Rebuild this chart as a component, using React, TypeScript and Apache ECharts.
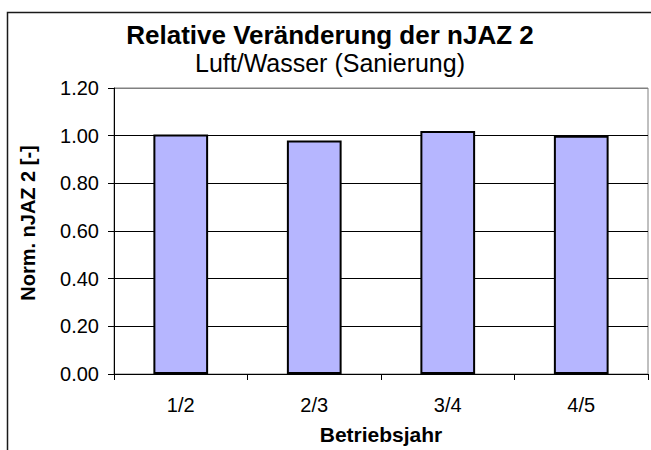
import React, { useEffect, useRef } from "react";
import * as echarts from "echarts";

const categories = ["1/2", "2/3", "3/4", "4/5"];
const values = [1.005, 0.98, 1.02, 1.0];
const yTicks = { min: 0, max: 1.2, interval: 0.2 };
const titleText = "Relative Veränderung der nJAZ 2";
const subtitleText = "Luft/Wasser (Sanierung)";
const xName = "Betriebsjahr";
const yName = "Norm. nJAZ 2 [-]";

const FONT = "'Liberation Sans', Arial, sans-serif";

export default function App() {
  const ref = useRef<HTMLDivElement>(null);
  useEffect(() => {
    if (!ref.current) return;
    const chart = echarts.init(ref.current, undefined, { renderer: "svg" });
    chart.setOption({
      animation: false,
      backgroundColor: "#ffffff",
      textStyle: { fontFamily: FONT },
      graphic: [
        {
          type: "rect",
          shape: { x: 7.5, y: 12.5, width: 700, height: 500 },
          style: { fill: "none", stroke: "#1a1a1a", lineWidth: 1.5 },
          z: 0,
        },
        {
          type: "text",
          x: 330,
          y: 35,
          style: {
            text: titleText,
            font: `bold 26px ${FONT}`,
            fill: "#000",
            align: "center",
            verticalAlign: "middle",
          },
        },
        {
          type: "text",
          x: 330,
          y: 63,
          style: {
            text: subtitleText,
            font: `25px ${FONT}`,
            fill: "#000",
            align: "center",
            verticalAlign: "middle",
          },
        },
        {
          type: "text",
          x: 28,
          y: 223,
          rotation: Math.PI / 2,
          style: {
            text: yName,
            font: `bold 20px ${FONT}`,
            fill: "#000",
            align: "center",
            verticalAlign: "middle",
          },
        },
      ],
      grid: {
        left: 114,
        top: 88,
        right: 3,
        bottom: 74,
        show: true,
        borderColor: "#808080",
        borderWidth: 1,
        containLabel: false,
      },
      xAxis: {
        type: "category",
        data: categories,
        boundaryGap: true,
        name: xName,
        nameLocation: "middle",
        nameGap: 50,
        nameTextStyle: { fontSize: 21, fontWeight: "bold", color: "#000", fontFamily: FONT },
        axisLine: { show: true, lineStyle: { color: "#000", width: 1 } },
        axisTick: { show: true, length: 6, inside: false, lineStyle: { color: "#000" } },
        axisLabel: { fontSize: 20, color: "#000", margin: 21, fontFamily: FONT },
        splitLine: { show: false },
      },
      yAxis: {
        type: "value",
        min: yTicks.min,
        max: yTicks.max,
        interval: yTicks.interval,
        axisLine: { show: true, lineStyle: { color: "#000", width: 1 } },
        axisTick: { show: true, length: 6, inside: false, lineStyle: { color: "#000" } },
        axisLabel: {
          fontSize: 20,
          color: "#000",
          margin: 15,
          fontFamily: FONT,
          formatter: (v: number) => v.toFixed(2),
        },
        splitLine: {
          show: true,
          lineStyle: {
            color: ["#000", "#000", "#000", "#000", "#000", "#000", "#808080"],
            width: 1,
          },
        },
      },
      series: [
        {
          type: "bar",
          data: values,
          barWidth: "41%",
          itemStyle: {
            color: "#B6B6FF",
            borderColor: "#000",
            borderWidth: 2,
          },
        },
      ],
    });
    return () => chart.dispose();
  }, []);
  return (
    <div
      ref={ref}
      style={{ position: "fixed", left: 0, top: 0, width: 651, height: 450 }}
    />
  );
}
